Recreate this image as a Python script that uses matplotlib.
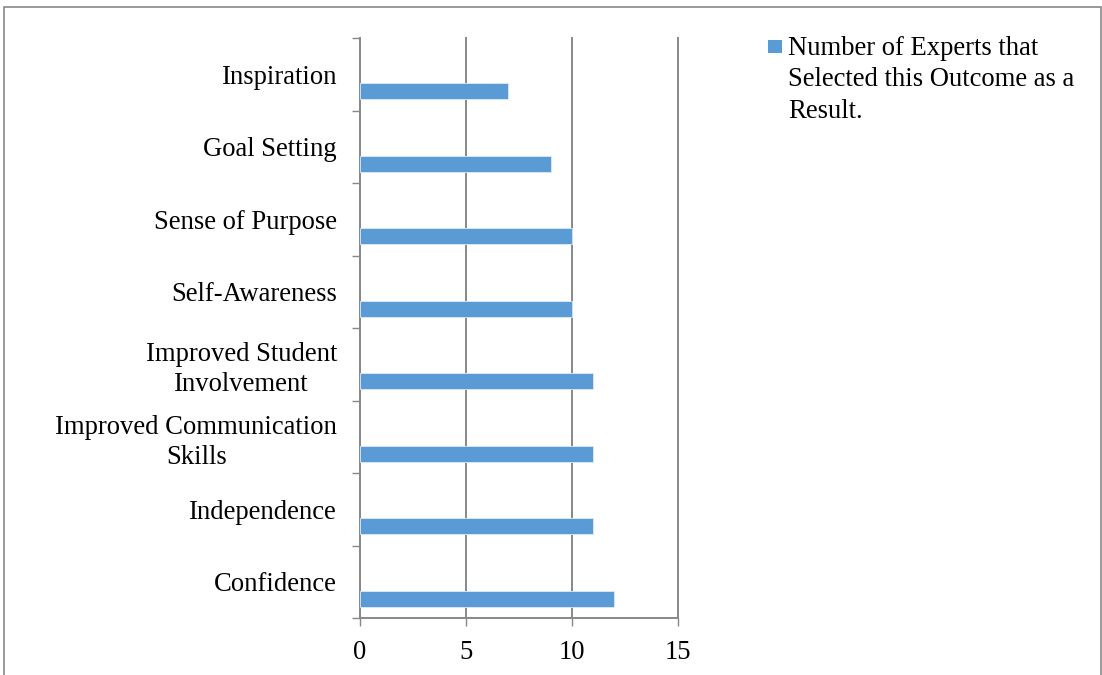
import matplotlib
matplotlib.use("Agg")
import matplotlib.pyplot as plt
from matplotlib.patches import Rectangle
import numpy as np

plt.rcParams['font.family'] = ['Liberation Serif', 'DejaVu Serif']

categories = ["Inspiration", "Goal Setting", "Sense of Purpose", "Self-Awareness",
              "Improved Student\nInvolvement", "Improved Communication\nSkills",
              "Independence", "Confidence"]
values = [7, 9, 10, 10, 11, 11, 11, 12]
x_ticks = [0, 5, 10, 15]
legend_label = "Number of Experts that\nSelected this Outcome as a\nResult."

bar_color = "#5B9BD5"
line_color = "#888888"
W, H = 1102, 675
FS = 19.2

fig = plt.figure(figsize=(W / 100, H / 100), dpi=100)
ax = fig.add_axes([360 / W, 1 - 618 / H, (678 - 360) / W, (618 - 38) / H])

n = len(categories)
# category bands: top category at the top, band i spans [i, i+1] from the top
centers = np.arange(n) + 0.5
bar_offset = 0.235
bar_height = 0.22
ax.barh(centers + bar_offset, values, height=bar_height, color=bar_color,
        edgecolor="#DDEBF7", linewidth=0.6, zorder=3)

ax.set_ylim(n, 0)
ax.set_xlim(0, 15)

ax.set_xticks(x_ticks)
ax.set_xticklabels([str(t) for t in x_ticks], fontsize=FS)
ax.tick_params(axis='x', direction='out', length=6, width=1.0, color=line_color, pad=10)

ax.set_yticks(centers)
ax.set_yticklabels(categories, fontsize=FS, multialignment='center', linespacing=1.25)
ax.set_yticks(np.arange(n + 1), minor=True)
ax.tick_params(axis='y', which='major', length=0, pad=16.5)
ax.tick_params(axis='y', which='minor', direction='out', length=6, width=1.0, color=line_color)

ax.xaxis.grid(True, color=line_color, linewidth=1.4, zorder=0)
for gl in ax.xaxis.get_gridlines():
    gl.set_clip_on(False)
ax.set_axisbelow(True)
for s in ['top', 'right']:
    ax.spines[s].set_visible(False)
for s in ['left', 'bottom']:
    ax.spines[s].set_color(line_color)
    ax.spines[s].set_linewidth(1.4)

# legend
fig.patches.append(Rectangle((768 / W, 1 - 53 / H), 14 / W, 13 / H,
                             transform=fig.transFigure, facecolor=bar_color,
                             edgecolor='none'))
fig.text(788 / W, 1 - 36 / H, legend_label, fontsize=FS, va='top', ha='left',
         linespacing=1.34)

# outer chart border
fig.patches.append(Rectangle((4 / W, -0.05), (1101 - 4) / W, 1.05 - 7 / H,
                             transform=fig.transFigure, facecolor='none',
                             edgecolor=line_color, linewidth=1.2, clip_on=False))

fig.savefig("out.png", dpi=100)
